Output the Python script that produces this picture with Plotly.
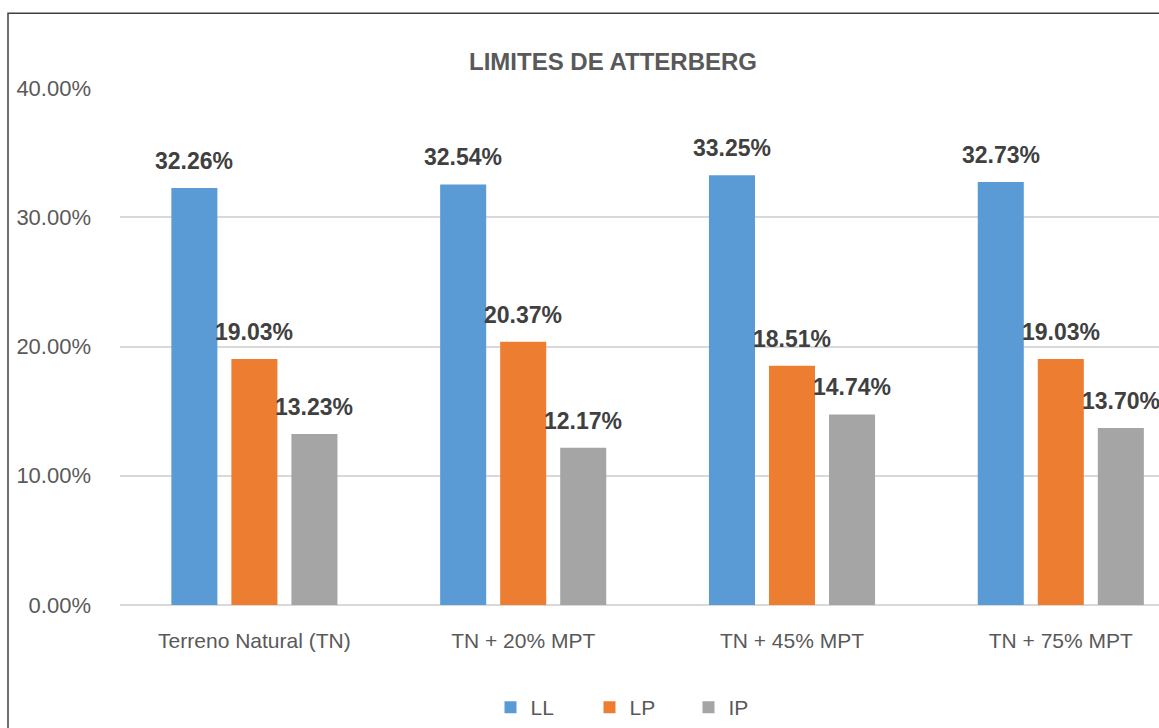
import plotly.graph_objects as go

# Atterberg limits per soil mix (values in %)
categories = ["Terreno Natural (TN)", "TN + 20% MPT", "TN + 45% MPT", "TN + 75% MPT"]
series_names = ["LL", "LP", "IP"]
ll_values = [32.26, 32.54, 33.25, 32.73]
lp_values = [19.03, 20.37, 18.51, 19.03]
ip_values = [13.23, 12.17, 14.74, 13.70]
y_ticks = [0, 10, 20, 30, 40]
y_tick_labels = [f"{v:.2f}%" for v in y_ticks]

colors = ["#5B9BD5", "#ED7D31", "#A5A5A5"]
font_family = "Liberation Sans, Arial, sans-serif"

W, H = 1159, 728
left, top, bottom = 120, 88, 122
pitch = 268.8  # pixel width of one category band
x_max = -0.5 + (W - left) / pitch

fig = go.Figure()
all_values = [ll_values, lp_values, ip_values]
for name, vals, col in zip(series_names, all_values, colors):
    fig.add_trace(go.Bar(
        name=name, x=categories, y=vals,
        marker=dict(color=col, line=dict(width=0)),
    ))

# value labels above each bar
offsets = [-60, 0, 60]
annotations = []
for vals, dx in zip(all_values, offsets):
    for cat, v in zip(categories, vals):
        annotations.append(dict(
            x=cat, y=v, xref="x", yref="y", text=f"<b>{v:.2f}%</b>",
            showarrow=False, xshift=dx, yshift=27, yanchor="middle",
            font=dict(family=font_family, size=23, color="#404040"),
        ))

plot_w = W - left
plot_h = H - top - bottom
fig.update_layout(
    width=W, height=H,
    margin=dict(l=left, r=0, t=top, b=bottom, pad=0),
    paper_bgcolor="white", plot_bgcolor="white",
    barmode="group", bargap=0.33, bargroupgap=0.233,
    title=dict(
        text="<b>LIMITES DE ATTERBERG</b>",
        x=613 / W, xanchor="center", y=1 - 62 / H, yanchor="middle",
        font=dict(family=font_family, size=24, color="#595959"),
    ),
    xaxis=dict(
        range=[-0.5, x_max], showgrid=False, showline=False, zeroline=False,
        ticks="", ticklabelstandoff=21,
        tickfont=dict(family=font_family, size=21, color="#595959"),
    ),
    yaxis=dict(
        range=[0, 40], tickvals=y_ticks, ticktext=y_tick_labels,
        showgrid=True, gridcolor="#D9D9D9", gridwidth=1.5,
        zeroline=True, zerolinecolor="#D9D9D9", zerolinewidth=1.5,
        showline=False, ticks="", ticklabelstandoff=28,
        tickfont=dict(family=font_family, size=22, color="#595959"),
    ),
    legend=dict(
        orientation="h", x=(639 - left) / plot_w, xanchor="center",
        y=-(709 - (H - bottom)) / plot_h, yanchor="middle",
        entrywidth=54, entrywidthmode="pixels",
        font=dict(family=font_family, size=21, color="#595959"),
        bgcolor="rgba(0,0,0,0)",
    ),
    annotations=annotations,
    shapes=[dict(
        type="rect", xref="paper", yref="paper", layer="above",
        x0=(8 - left) / plot_w, x1=1.5,
        y0=-1.0, y1=1 + (top - 13) / plot_h,
        line=dict(color="#404040", width=1.5), fillcolor="rgba(0,0,0,0)",
    )],
)

fig.write_html("out.html")
